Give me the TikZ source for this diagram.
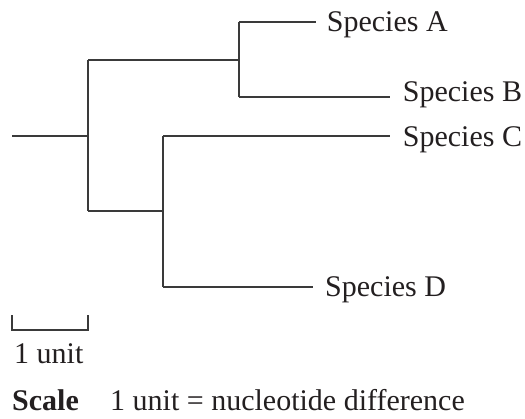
\documentclass[tikz,border=0pt]{standalone}
\usepackage{fontspec}
\setmainfont{Liberation Serif}
\definecolor{linec}{HTML}{3A3A3A}
\definecolor{textc}{HTML}{231F20}
\begin{document}
\begin{tikzpicture}[x=1pt,y=-1pt,
  branch/.style={draw=linec,line width=1.3pt},
  lbl/.style={anchor=base west,inner sep=0pt,text=textc,font=\fontsize{30}{36}\selectfont}]
\useasboundingbox (0,0) rectangle (525,418);
% tree coordinates
\coordinate (r0) at (12,136);
\coordinate (n1) at (88,136);
\coordinate (n1t) at (88,60);
\coordinate (n1b) at (88,211);
\coordinate (n2) at (239,60);
\coordinate (n2t) at (239,22);
\coordinate (n2b) at (239,97);
\coordinate (n3) at (163,211);
\coordinate (n3t) at (163,136);
\coordinate (n3b) at (163,287);
\coordinate (eA) at (316,22);
\coordinate (eB) at (390,97);
\coordinate (eC) at (390,136);
\coordinate (eD) at (313,287);
% labels
\node[lbl] (A) at (326.7,31.7) {Species A};
\node[lbl] (B) at (402.7,101.7) {Species B};
\node[lbl] (C) at (402.7,146.7) {Species C};
\node[lbl] (D) at (325,296.7) {Species D};
% branches
\draw[branch] (r0) -- (n1);
\draw[branch] (n1t) -- (n1b);
\draw[branch] (n1t) -- (n2);
\draw[branch] (n2t) -- (n2b);
\draw[branch] (n2t) -- (eA);
\draw[branch] (n2b) -- (eB);
\draw[branch] (n1b) -- (n3);
\draw[branch] (n3t) -- (n3b);
\draw[branch] (n3t) -- (eC);
\draw[branch] (n3b) -- (eD);
% scale bar
\coordinate (s1) at (12,315);
\coordinate (s2) at (12,330);
\coordinate (s3) at (88,330);
\coordinate (s4) at (88,315);
\draw[branch] (s1) -- (s2) -- (s3) -- (s4);
\node[lbl] (unit) at (14,363.3) {1 unit};
\node[lbl] (scale) at (12,410) {\bfseries Scale};
\node[lbl] (def) at (110,410) {1 unit = nucleotide difference};
\end{tikzpicture}
\end{document}
